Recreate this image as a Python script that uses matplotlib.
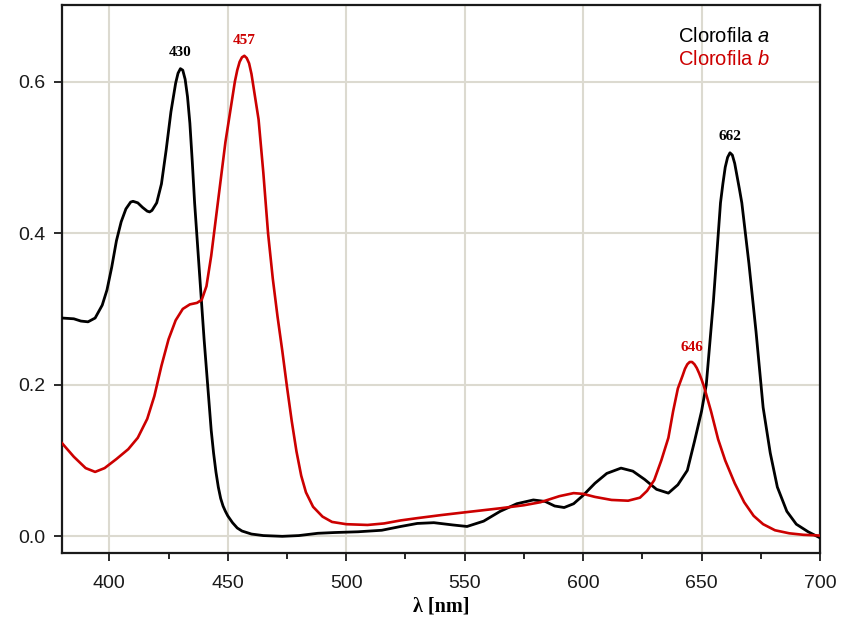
import matplotlib.pyplot as plt
import matplotlib as mpl

# Clorofila a (black) - wavelength [nm], absorbance
chl_a_nm = [380, 385, 388, 391, 394, 397, 399, 401, 403, 405, 407, 409, 410, 412,
            414, 416, 417, 418, 420, 422, 424, 426, 428, 429, 430, 431, 432, 433,
            434, 435, 436, 438, 440, 442, 443, 444, 445, 446, 447, 448, 449, 450,
            452, 454, 456, 460, 465, 473, 480, 488, 495, 505, 515, 523, 530, 537,
            545, 551, 558, 565, 572, 579, 584, 588, 592, 596, 600, 605, 610, 616,
            621, 626, 631, 636, 640, 644, 647, 650, 652, 655, 658, 659, 660, 661,
            662, 663, 664, 665, 666, 667, 670, 673, 676, 679, 682, 686, 690, 695,
            700]
chl_a_abs = [0.288, 0.287, 0.284, 0.283, 0.288, 0.305, 0.325, 0.355, 0.39, 0.415,
             0.432, 0.441, 0.442, 0.44, 0.434, 0.429, 0.428, 0.43, 0.44, 0.465, 0.51,
             0.56, 0.598, 0.611, 0.617, 0.615, 0.603, 0.58, 0.545, 0.495, 0.44, 0.35,
             0.26, 0.18, 0.14, 0.11, 0.085, 0.065, 0.05, 0.04, 0.033, 0.027, 0.018,
             0.011, 0.007, 0.003, 0.001, 0.0, 0.001, 0.004, 0.005, 0.006, 0.008,
             0.013, 0.017, 0.018, 0.015, 0.013, 0.02, 0.033, 0.043, 0.048, 0.046,
             0.04, 0.038, 0.043, 0.054, 0.07, 0.083, 0.09, 0.086, 0.075, 0.062,
             0.057, 0.068, 0.087, 0.125, 0.165, 0.2, 0.31, 0.44, 0.465, 0.487, 0.5,
             0.506, 0.503, 0.492, 0.475, 0.458, 0.44, 0.36, 0.27, 0.17, 0.11, 0.065,
             0.033, 0.016, 0.006, -0.002]

# Clorofila b (red)
chl_b_nm = [380, 385, 390, 394, 398, 403, 408, 412, 416, 419, 422, 425, 428, 431,
            434, 437, 439, 441, 443, 445, 447, 449, 451, 453, 454, 455, 456, 457,
            458, 459, 460, 461, 462, 463, 465, 467, 469, 471, 473, 475, 477, 479,
            481, 483, 486, 490, 494, 500, 509, 516, 523, 530, 540, 551, 565, 575,
            582, 590, 596, 600, 605, 612, 619, 624, 627, 630, 633, 636, 638, 640,
            642, 643, 644, 645, 646, 647, 648, 649, 650, 651, 654, 657, 660, 664,
            668, 672, 676, 681, 687, 693, 700]
chl_b_abs = [0.123, 0.105, 0.09, 0.085, 0.09, 0.102, 0.115, 0.13, 0.155, 0.185,
             0.225, 0.26, 0.285, 0.30, 0.306, 0.308, 0.312, 0.33, 0.37, 0.42, 0.47,
             0.52, 0.56, 0.60, 0.615, 0.626, 0.632, 0.634, 0.631, 0.624, 0.61, 0.59,
             0.57, 0.55, 0.48, 0.40, 0.34, 0.29, 0.245, 0.197, 0.152, 0.112, 0.08,
             0.058, 0.039, 0.026, 0.019, 0.016, 0.015, 0.017, 0.021, 0.024, 0.028,
             0.032, 0.037, 0.041, 0.045, 0.053, 0.057, 0.056, 0.052, 0.048, 0.047,
             0.051, 0.06, 0.074, 0.1, 0.13, 0.165, 0.195, 0.212, 0.221, 0.227, 0.23,
             0.23, 0.227, 0.222, 0.215, 0.207, 0.198, 0.165, 0.128, 0.1, 0.07, 0.045,
             0.027, 0.016, 0.008, 0.004, 0.002, 0.001]

peaks_a = [(430, 0.617), (662, 0.506)]
peaks_b = [(457, 0.634), (646, 0.23)]

BLACK = '#000000'
RED = '#cc0000'

mpl.rcParams['mathtext.fontset'] = 'custom'
mpl.rcParams['mathtext.it'] = 'Liberation Sans:italic'
mpl.rcParams['mathtext.rm'] = 'Liberation Sans'

fig = plt.figure(figsize=(8.43, 6.25), dpi=100)
ax = fig.add_axes([0.0735, 0.1152, 0.8992, 0.8768])

ax.plot(chl_a_nm, chl_a_abs, color=BLACK, lw=2.0, zorder=3, solid_joinstyle='round')
ax.plot(chl_b_nm, chl_b_abs, color=RED, lw=1.9, zorder=3, solid_joinstyle='round')

ax.set_xlim(380, 700)
ax.set_ylim(-0.022, 0.701)
ax.set_xticks([400, 450, 500, 550, 600, 650, 700])
ax.set_xticks([425, 475, 525, 575, 625, 675], minor=True)
ax.set_yticks([0.0, 0.2, 0.4, 0.6])
ax.set_yticklabels(['0.0', '0.2', '0.4', '0.6'])

for x in [400, 450, 500, 550, 600, 650]:
    ax.axvline(x, color='#dcdad0', lw=1.5, zorder=1)
for y in [0.0, 0.2, 0.4, 0.6]:
    ax.axhline(y, color='#dcdad0', lw=1.5, zorder=1)

ax.tick_params(axis='both', which='major', direction='out', length=6, width=1.3,
               labelsize=14, colors='#1a1a1a')
ax.tick_params(axis='x', which='minor', direction='out', length=4, width=1.2)
for lab in ax.get_xticklabels() + ax.get_yticklabels():
    lab.set_family('Liberation Sans')
ax.tick_params(axis='x', pad=10)
ax.tick_params(axis='y', pad=6)

for s in ax.spines.values():
    s.set_linewidth(1.6)
    s.set_color('#1a1a1a')

ax.set_xlabel('λ [nm]', fontsize=14.5, fontweight='bold', family='Liberation Serif',
              labelpad=3)

for x, y in peaks_a:
    ax.annotate(str(x), (x, y), xytext=(0, 7), textcoords='offset points',
                ha='center', va='bottom', fontsize=11, fontweight='bold',
                family='Liberation Serif', color=BLACK)
for x, y in peaks_b:
    ax.annotate(str(x), (x, y), xytext=(0, 6), textcoords='offset points',
                ha='center', va='bottom', fontsize=11, fontweight='bold',
                family='Liberation Serif', color=RED)

ax.text(0.813, 0.943, r'Clorofila $\mathit{a}$', transform=ax.transAxes,
        fontsize=14.5, family='Liberation Sans', color=BLACK, va='center', ha='left')
ax.text(0.813, 0.900, r'Clorofila $\mathit{b}$', transform=ax.transAxes,
        fontsize=14.5, family='Liberation Sans', color=RED, va='center', ha='left')

fig.savefig('out.png', dpi=100)
